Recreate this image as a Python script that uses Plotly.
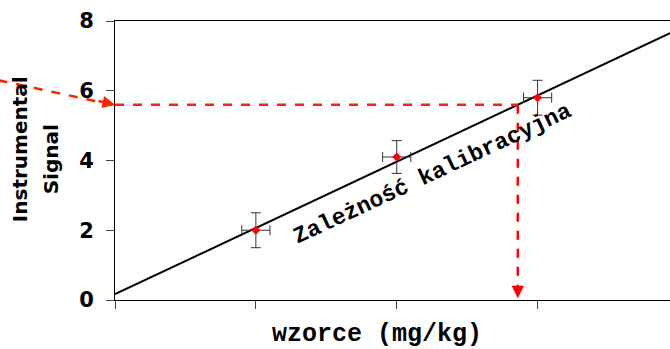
import plotly.graph_objects as go
import numpy as np

# Data
conc = [1, 2, 3]
signal = [2.0, 4.1, 5.8]
signal_err = [0.5, 0.47, 0.5]
conc_err = [0.1, 0.1, 0.1]
y_ticks = [0, 2, 4, 6, 8]
x_ticks = [0, 1, 2, 3]
read_signal = 5.6
x_max = 3.94

m, b = np.polyfit(conc, signal, 1)
read_conc = (read_signal - b) / m
line_x = [0, x_max]
line_y = [b + m * v for v in line_x]

fig = go.Figure()
fig.add_trace(go.Scatter(x=line_x, y=line_y, mode='lines',
                         line=dict(color='black', width=2), showlegend=False))
fig.add_trace(go.Scatter(x=conc, y=signal, mode='markers',
                         marker=dict(symbol='diamond', color='red', size=7),
                         error_y=dict(type='data', array=signal_err, color='#333', thickness=1, width=5),
                         error_x=dict(type='data', array=conc_err, color='#333', thickness=1, width=5),
                         showlegend=False))

red = '#ff2200'
# horizontal dashed
fig.add_shape(type='line', x0=0, x1=read_conc, y0=read_signal, y1=read_signal,
              line=dict(color=red, width=2.5, dash='dash'))
# vertical dashed
fig.add_shape(type='line', x0=read_conc, x1=read_conc, y0=read_signal, y1=0.15,
              line=dict(color='red', width=2.5, dash='dash'))
fig.add_annotation(x=read_conc, y=0.05, ax=0, ay=-8, text='', showarrow=True,
                   arrowhead=2, arrowsize=1, arrowwidth=2.5, arrowcolor='red', standoff=0)
# incoming arrow from the left
fig.add_shape(type='line', xref='paper', yref='paper', x0=-0.21, y0=6.3 / 8,
              x1=-0.005, y1=read_signal / 8,
              line=dict(color=red, width=2.5, dash='dash'))
fig.add_annotation(x=0, y=read_signal, ax=-18, ay=-4, text='', showarrow=True,
                   arrowhead=2, arrowsize=1, arrowwidth=2.5, arrowcolor=red, standoff=0)

fig.add_annotation(x=2.26, y=3.6, text='<b>Zależność kalibracyjna</b>', showarrow=False,
                   textangle=-25, xanchor='center', yanchor='middle',
                   font=dict(family='Liberation Mono', size=23, color='black'))

# axis titles as annotations for exact placement
fig.add_annotation(xref='paper', yref='paper', x=0.472, y=-0.122, text='<b>wzorce (mg/kg)</b>',
                   showarrow=False, xanchor='center', yanchor='middle',
                   font=dict(family='Liberation Mono', size=25, color='black'))
fig.add_annotation(xref='paper', yref='paper', x=-0.171, y=0.541, text='<b>Instrumental</b>',
                   showarrow=False, textangle=-90, xanchor='center', yanchor='middle',
                   font=dict(family='DejaVu Sans', size=20, color='black'))
fig.add_annotation(xref='paper', yref='paper', x=-0.115, y=0.505, text='<b>Signal</b>',
                   showarrow=False, textangle=-90, xanchor='center', yanchor='middle',
                   font=dict(family='DejaVu Sans', size=20, color='black'))

fig.update_layout(
    width=670, height=349,
    margin=dict(l=115, r=0, t=21, b=49),
    paper_bgcolor='white', plot_bgcolor='white',
    xaxis=dict(range=[0, x_max], tickvals=x_ticks, ticktext=['' for _ in x_ticks],
               ticks='outside', ticklen=8, tickcolor='#444', showgrid=False, zeroline=False,
               showline=True, linecolor='black', linewidth=1, mirror=True, automargin=False),
    yaxis=dict(range=[0, 8], tickvals=y_ticks, ticks='outside', ticklen=8, tickcolor='#444',
               showgrid=False, zeroline=False, showline=True, linecolor='black', linewidth=1,
               automargin=False, ticklabelstandoff=8,
               tickfont=dict(family='DejaVu Sans', size=21, color='black', weight='bold')),
)
fig.write_html('out.html', config={'displayModeBar': False},
               post_script="document.body.style.margin='0';document.body.style.overflow='hidden';")
